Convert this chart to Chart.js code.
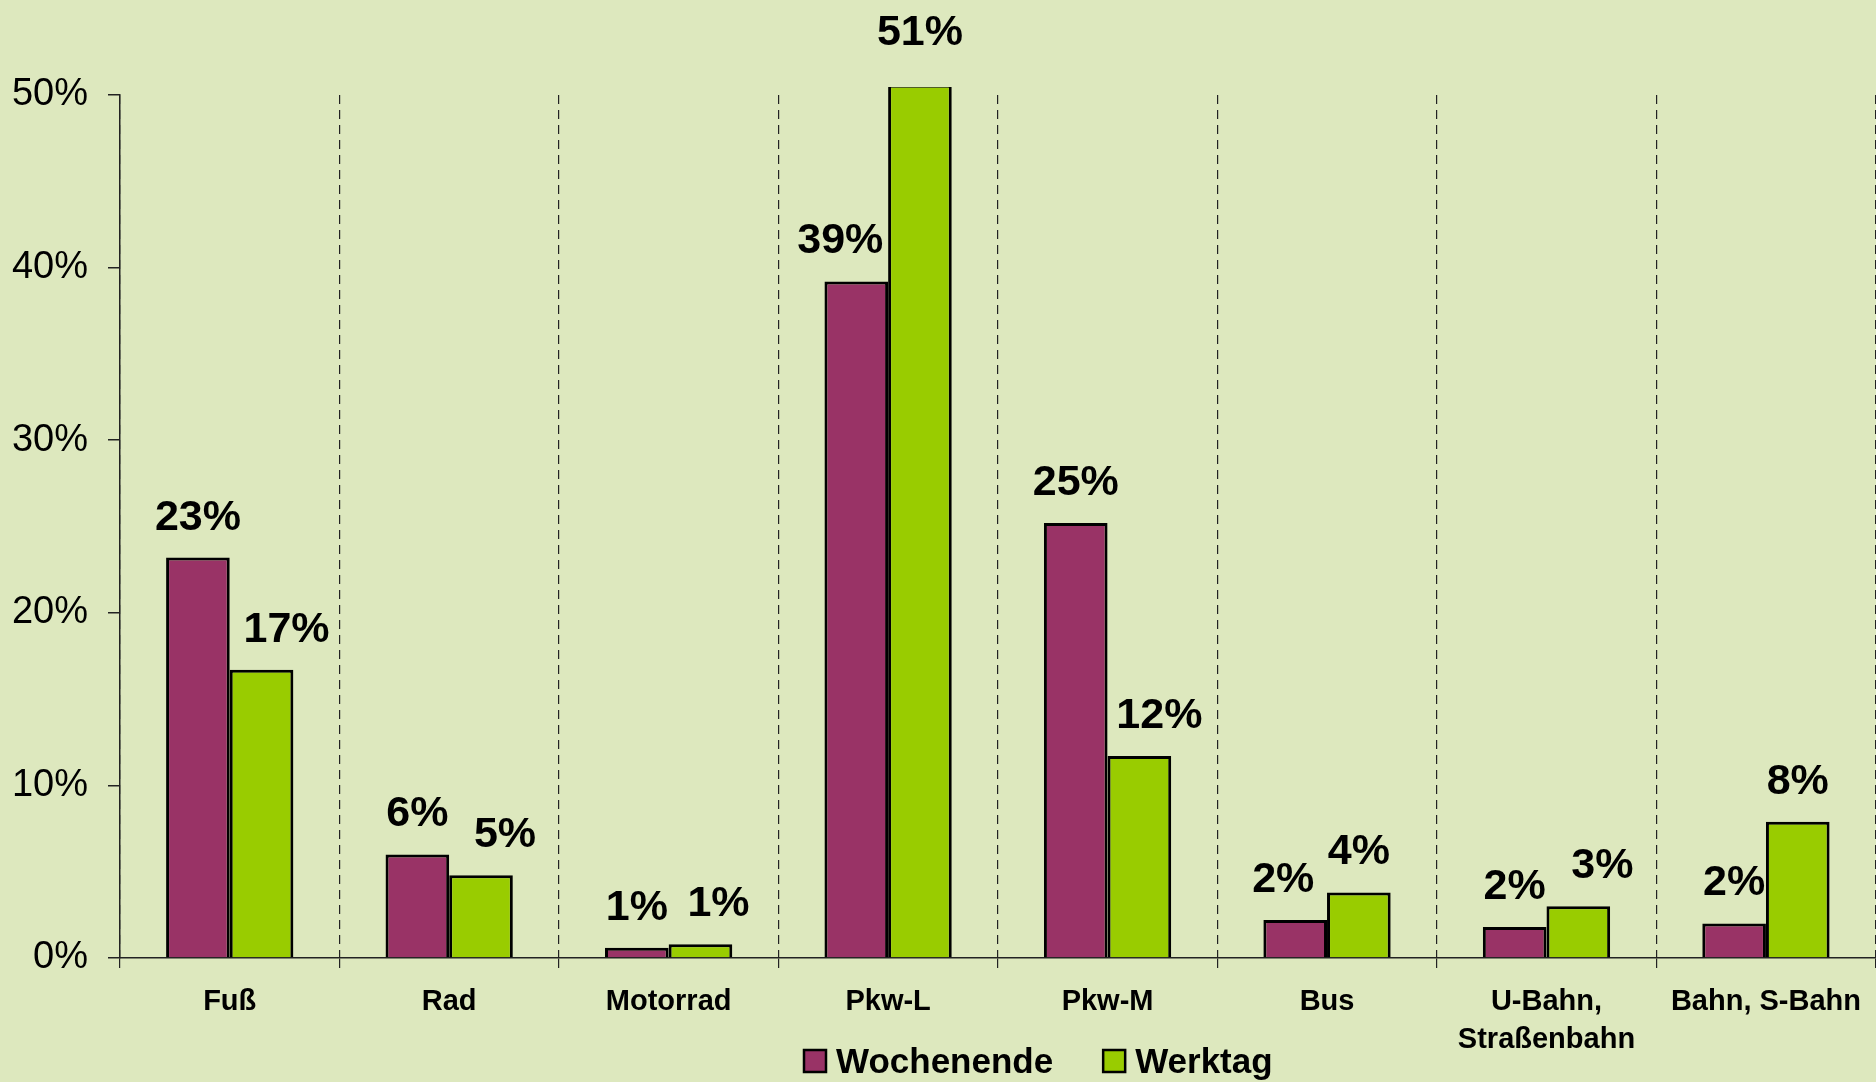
<!DOCTYPE html>
<html>
<head>
<meta charset="utf-8">
<script src="https://cdn.jsdelivr.net/npm/chart.js@4/dist/chart.umd.min.js"></script>
<style>
  html, body { margin: 0; padding: 0; background: #dde8be; }
  #wrap { width: 1876px; height: 1082px; position: relative; }
</style>
</head>
<body>
<div id="wrap"><canvas id="modalChart"></canvas></div>
<script>
// Verkehrsmittelwahl, Anteil in %
const categories = ["Fuß", "Rad", "Motorrad", "Pkw-L", "Pkw-M", "Bus", ["U-Bahn,", "Straßenbahn"], "Bahn, S-Bahn"];
const wochenende = [23.2, 6.0, 0.6, 39.2, 25.2, 2.2, 1.8, 2.0];
const werktag = [16.7, 4.8, 0.8, 50.6, 11.7, 3.8, 3.0, 7.9];
const yTicks = [0, 10, 20, 30, 40, 50];

// small manual label nudges (like dragged labels in the original)
const labelShiftX = [
    [0, 0, 0, -16, 0, -12, 0, 0],
    [25, 24, 18, 0, 20, 0, 24, 0]
];
const labelShiftY = [
    [0, 0, 0, 0, 0, 0, 0, 0],
    [0, 0, 0, -12, 0, 0, 0, 0]
];

const FONT = "'Liberation Sans', Arial, sans-serif";

const valueLabels = {
    id: "valueLabels",
    afterDatasetsDraw(chart) {
        const ctx = chart.ctx;
        ctx.save();
        ctx.font = "bold 43px " + FONT;
        ctx.fillStyle = "#000";
        ctx.textAlign = "center";
        ctx.textBaseline = "alphabetic";
        chart.data.datasets.forEach((ds, di) => {
            chart.getDatasetMeta(di).data.forEach((bar, i) => {
                const txt = Math.round(ds.data[i]) + "%";
                ctx.fillText(txt, bar.x + labelShiftX[di][i], bar.y - 28 + labelShiftY[di][i]);
            });
        });
        ctx.restore();
    }
};

const bottomLegend = {
    id: "bottomLegend",
    afterDraw(chart) {
        const ctx = chart.ctx;
        ctx.save();
        ctx.font = "bold 35px " + FONT;
        ctx.textBaseline = "alphabetic";
        ctx.textAlign = "left";
        let x = 804;
        const y = 1050;
        chart.data.datasets.forEach(ds => {
            ctx.fillStyle = ds.backgroundColor;
            ctx.fillRect(x, y, 22, 22);
            ctx.lineWidth = 2.5;
            ctx.strokeStyle = "#000";
            ctx.strokeRect(x, y, 22, 22);
            ctx.fillStyle = "#000";
            ctx.fillText(ds.label, x + 32, y + 23);
            x += 32 + ctx.measureText(ds.label).width + 50;
        });
        ctx.restore();
    }
};

const ctx = document.getElementById("modalChart").getContext("2d");
const modalChart = new Chart(ctx, {
    type: "bar",
    data: {
        labels: categories,
        datasets: [
            {
                label: "Wochenende",
                data: wochenende,
                backgroundColor: "#993366",
                borderColor: "#000",
                borderWidth: 3,
                borderSkipped: "bottom",
                clip: { left: 0, top: 8, right: 0, bottom: 0 }
            },
            {
                label: "Werktag",
                data: werktag,
                backgroundColor: "#99cc00",
                borderColor: "#000",
                borderWidth: 3,
                borderSkipped: "bottom",
                clip: { left: 0, top: 8, right: 0, bottom: 0 }
            }
        ]
    },
    options: {
        responsive: true,
        maintainAspectRatio: false,
        animation: false,
        categoryPercentage: 0.58,
        barPercentage: 1.0,
        layout: { padding: { top: 95, right: 0, bottom: 0, left: 0 } },
        plugins: {
            legend: { display: false },
            tooltip: { enabled: false }
        },
        scales: {
            x: {
                offset: true,
                afterFit: s => { s.height = 124; },
                grid: {
                    display: true,
                    offset: true,
                    drawOnChartArea: true,
                    drawTicks: true,
                    tickLength: 10,
                    color: "#222",
                    lineWidth: 1.2,
                    tickColor: "#222"
                },
                border: { display: true, color: "#222", width: 1.5, dash: [9, 6] },
                ticks: {
                    color: "#000",
                    padding: 15,
                    font: { family: FONT, size: 29, weight: "bold", lineHeight: 1.3 },
                    maxRotation: 0,
                    autoSkip: false
                }
            },
            y: {
                min: 0,
                max: 50,
                afterFit: s => { s.width = 120; },
                afterBuildTicks: s => { s.ticks = yTicks.map(v => ({ value: v })); },
                grid: {
                    display: true,
                    drawOnChartArea: false,
                    drawTicks: true,
                    tickLength: 12,
                    color: "#222",
                    tickColor: "#222",
                    lineWidth: 1.5
                },
                border: { display: true, color: "#222", width: 1.5 },
                ticks: {
                    color: "#000",
                    padding: 20,
                    font: { family: FONT, size: 38 },
                    callback: v => v + "%"
                }
            }
        }
    },
    plugins: [valueLabels, bottomLegend]
});
</script>
</body>
</html>
